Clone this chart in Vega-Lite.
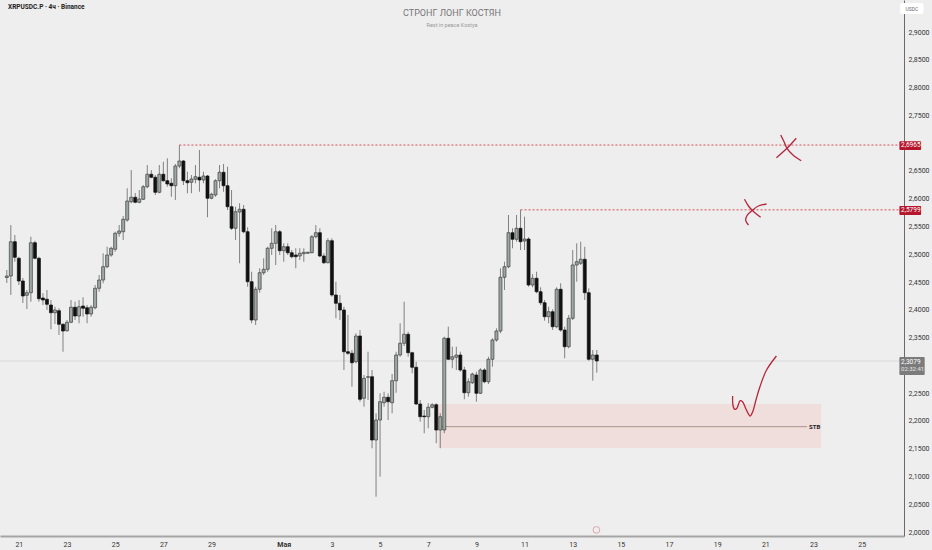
{
  "$schema": "https://vega.github.io/schema/vega-lite/v6.json",
  "width": 904,
  "height": 536,
  "autosize": {"type": "none"},
  "padding": {"left": 0, "top": 0, "right": 28, "bottom": 14},
  "background": "#eeeeee",
  "title": {
    "text": "СТРОНГ ЛОНГ КОСТЯН",
    "subtitle": "Rest in peace Kostya",
    "anchor": "middle",
    "offset": -28,
    "font": "Roboto",
    "fontSize": 9,
    "fontWeight": "normal",
    "color": "#777777",
    "subtitleFont": "Roboto",
    "subtitleFontSize": 5.5,
    "subtitleColor": "#9a9a9a",
    "subtitlePadding": 5
  },
  "datasets": {
    "candles": [
      {"i": -3, "o": 2.4581, "h": 2.4716, "l": 2.4482, "c": 2.4608},
      {"i": -2, "o": 2.4608, "h": 2.5526, "l": 2.4266, "c": 2.5225},
      {"i": -1, "o": 2.5225, "h": 2.5346, "l": 2.4865, "c": 2.4945},
      {"i": 0, "o": 2.4927, "h": 2.4955, "l": 2.4446, "c": 2.4518},
      {"i": 1, "o": 2.4518, "h": 2.4572, "l": 2.4122, "c": 2.4248},
      {"i": 2, "o": 2.4261, "h": 2.4356, "l": 2.4014, "c": 2.4307},
      {"i": 3, "o": 2.4307, "h": 2.5315, "l": 2.4145, "c": 2.5207},
      {"i": 4, "o": 2.5207, "h": 2.5243, "l": 2.4909, "c": 2.4927},
      {"i": 5, "o": 2.4927, "h": 2.4955, "l": 2.4145, "c": 2.4199},
      {"i": 6, "o": 2.4212, "h": 2.4297, "l": 2.4086, "c": 2.4176},
      {"i": 7, "o": 2.4189, "h": 2.4356, "l": 2.3996, "c": 2.4099},
      {"i": 8, "o": 2.4086, "h": 2.4176, "l": 2.3649, "c": 2.3947},
      {"i": 9, "o": 2.3947, "h": 2.4055, "l": 2.3744, "c": 2.3996},
      {"i": 10, "o": 2.3983, "h": 2.4027, "l": 2.3546, "c": 2.3739},
      {"i": 11, "o": 2.3739, "h": 2.3757, "l": 2.3245, "c": 2.3618},
      {"i": 12, "o": 2.3623, "h": 2.3816, "l": 2.3605, "c": 2.3775},
      {"i": 13, "o": 2.3775, "h": 2.4176, "l": 2.3757, "c": 2.4045},
      {"i": 14, "o": 2.4045, "h": 2.4145, "l": 2.3816, "c": 2.3888},
      {"i": 15, "o": 2.3888, "h": 2.4176, "l": 2.3757, "c": 2.4055},
      {"i": 16, "o": 2.4068, "h": 2.4225, "l": 2.3875, "c": 2.4027},
      {"i": 17, "o": 2.4037, "h": 2.4086, "l": 2.3757, "c": 2.3924},
      {"i": 18, "o": 2.3924, "h": 2.4086, "l": 2.3875, "c": 2.4045},
      {"i": 19, "o": 2.4037, "h": 2.4446, "l": 2.4009, "c": 2.4387},
      {"i": 20, "o": 2.4387, "h": 2.4626, "l": 2.4325, "c": 2.4536},
      {"i": 21, "o": 2.4536, "h": 2.5017, "l": 2.4477, "c": 2.4775},
      {"i": 22, "o": 2.4775, "h": 2.5135, "l": 2.4747, "c": 2.4986},
      {"i": 23, "o": 2.4986, "h": 2.5135, "l": 2.4955, "c": 2.5107},
      {"i": 24, "o": 2.5089, "h": 2.5405, "l": 2.5045, "c": 2.5377},
      {"i": 25, "o": 2.5377, "h": 2.5526, "l": 2.5315, "c": 2.5418},
      {"i": 26, "o": 2.5405, "h": 2.5688, "l": 2.5256, "c": 2.5629},
      {"i": 27, "o": 2.5616, "h": 2.6187, "l": 2.5585, "c": 2.5958},
      {"i": 28, "o": 2.5945, "h": 2.6516, "l": 2.5917, "c": 2.6025},
      {"i": 29, "o": 2.6025, "h": 2.6102, "l": 2.5917, "c": 2.5935},
      {"i": 30, "o": 2.5935, "h": 2.6156, "l": 2.5917, "c": 2.5994},
      {"i": 31, "o": 2.5989, "h": 2.6246, "l": 2.5976, "c": 2.6215},
      {"i": 32, "o": 2.6215, "h": 2.6606, "l": 2.6187, "c": 2.6439},
      {"i": 33, "o": 2.6439, "h": 2.6516, "l": 2.6367, "c": 2.6385},
      {"i": 34, "o": 2.6385, "h": 2.6426, "l": 2.6066, "c": 2.6115},
      {"i": 35, "o": 2.6115, "h": 2.6606, "l": 2.6097, "c": 2.6439},
      {"i": 36, "o": 2.6439, "h": 2.6665, "l": 2.6305, "c": 2.6323},
      {"i": 37, "o": 2.6323, "h": 2.6727, "l": 2.6215, "c": 2.6264},
      {"i": 38, "o": 2.6277, "h": 2.6367, "l": 2.6035, "c": 2.6233},
      {"i": 39, "o": 2.6233, "h": 2.6624, "l": 2.5976, "c": 2.6588},
      {"i": 40, "o": 2.6588, "h": 2.6965, "l": 2.6547, "c": 2.6678},
      {"i": 41, "o": 2.6678, "h": 2.6696, "l": 2.6246, "c": 2.6323},
      {"i": 42, "o": 2.6323, "h": 2.6485, "l": 2.6097, "c": 2.6287},
      {"i": 43, "o": 2.6295, "h": 2.6426, "l": 2.6097, "c": 2.6354},
      {"i": 44, "o": 2.6349, "h": 2.6606, "l": 2.6277, "c": 2.6395},
      {"i": 45, "o": 2.6385, "h": 2.6876, "l": 2.6125, "c": 2.6336},
      {"i": 46, "o": 2.6336, "h": 2.6485, "l": 2.6277, "c": 2.6408},
      {"i": 47, "o": 2.6408, "h": 2.6426, "l": 2.5665, "c": 2.6007},
      {"i": 48, "o": 2.6007, "h": 2.6107, "l": 2.5989, "c": 2.6079},
      {"i": 49, "o": 2.6066, "h": 2.6349, "l": 2.6035, "c": 2.6323},
      {"i": 50, "o": 2.6323, "h": 2.6606, "l": 2.6187, "c": 2.6475},
      {"i": 51, "o": 2.6475, "h": 2.6624, "l": 2.6125, "c": 2.6233},
      {"i": 52, "o": 2.6233, "h": 2.6575, "l": 2.5796, "c": 2.5855},
      {"i": 53, "o": 2.5855, "h": 2.6156, "l": 2.5436, "c": 2.5467},
      {"i": 54, "o": 2.5467, "h": 2.5855, "l": 2.5256, "c": 2.5765},
      {"i": 55, "o": 2.576, "h": 2.5917, "l": 2.4837, "c": 2.5809},
      {"i": 56, "o": 2.5809, "h": 2.5886, "l": 2.5377, "c": 2.5405},
      {"i": 57, "o": 2.5405, "h": 2.5485, "l": 2.4415, "c": 2.4505},
      {"i": 58, "o": 2.4505, "h": 2.4685, "l": 2.3757, "c": 2.3816},
      {"i": 59, "o": 2.3816, "h": 2.4415, "l": 2.3726, "c": 2.4369},
      {"i": 60, "o": 2.4369, "h": 2.4747, "l": 2.4307, "c": 2.4667},
      {"i": 61, "o": 2.4667, "h": 2.4927, "l": 2.4626, "c": 2.4729},
      {"i": 62, "o": 2.4729, "h": 2.5135, "l": 2.4685, "c": 2.5107},
      {"i": 63, "o": 2.5107, "h": 2.5467, "l": 2.4986, "c": 2.5197},
      {"i": 64, "o": 2.5197, "h": 2.5526, "l": 2.4806, "c": 2.5405},
      {"i": 65, "o": 2.5405, "h": 2.5436, "l": 2.4986, "c": 2.5063},
      {"i": 66, "o": 2.5063, "h": 2.5197, "l": 2.4865, "c": 2.5135},
      {"i": 67, "o": 2.5135, "h": 2.5197, "l": 2.4986, "c": 2.5027},
      {"i": 68, "o": 2.5027, "h": 2.5076, "l": 2.4927, "c": 2.4955},
      {"i": 69, "o": 2.4986, "h": 2.5107, "l": 2.4747, "c": 2.4955},
      {"i": 70, "o": 2.4968, "h": 2.5107, "l": 2.4896, "c": 2.5017},
      {"i": 71, "o": 2.5009, "h": 2.5107, "l": 2.4865, "c": 2.5035},
      {"i": 72, "o": 2.5017, "h": 2.5045, "l": 2.5004, "c": 2.5035},
      {"i": 73, "o": 2.5027, "h": 2.5346, "l": 2.5017, "c": 2.5315},
      {"i": 74, "o": 2.5315, "h": 2.5526, "l": 2.5287, "c": 2.5387},
      {"i": 75, "o": 2.5387, "h": 2.5467, "l": 2.4945, "c": 2.4968},
      {"i": 76, "o": 2.4968, "h": 2.5017, "l": 2.4824, "c": 2.4847},
      {"i": 77, "o": 2.4847, "h": 2.5287, "l": 2.4837, "c": 2.5243},
      {"i": 78, "o": 2.5243, "h": 2.5287, "l": 2.4235, "c": 2.4266},
      {"i": 79, "o": 2.4266, "h": 2.4505, "l": 2.3847, "c": 2.4117},
      {"i": 80, "o": 2.4117, "h": 2.4266, "l": 2.3816, "c": 2.3996},
      {"i": 81, "o": 2.3996, "h": 2.4055, "l": 2.2916, "c": 2.3245},
      {"i": 82, "o": 2.3245, "h": 2.3906, "l": 2.3186, "c": 2.3217},
      {"i": 83, "o": 2.3217, "h": 2.3276, "l": 2.2615, "c": 2.3047},
      {"i": 84, "o": 2.3065, "h": 2.3577, "l": 2.3037, "c": 2.3528},
      {"i": 85, "o": 2.3528, "h": 2.3636, "l": 2.2345, "c": 2.2389},
      {"i": 86, "o": 2.2407, "h": 2.2826, "l": 2.2255, "c": 2.2767},
      {"i": 87, "o": 2.2785, "h": 2.3245, "l": 2.2376, "c": 2.2795},
      {"i": 88, "o": 2.2795, "h": 2.2916, "l": 2.1507, "c": 2.1656},
      {"i": 89, "o": 2.1656, "h": 2.2137, "l": 2.0635, "c": 2.2016},
      {"i": 90, "o": 2.2016, "h": 2.2497, "l": 2.0995, "c": 2.2345},
      {"i": 91, "o": 2.2327, "h": 2.2525, "l": 2.2255, "c": 2.2425},
      {"i": 92, "o": 2.2425, "h": 2.2497, "l": 2.2016, "c": 2.2345},
      {"i": 93, "o": 2.2327, "h": 2.2844, "l": 2.2137, "c": 2.2723},
      {"i": 94, "o": 2.2723, "h": 2.3245, "l": 2.2507, "c": 2.3186},
      {"i": 95, "o": 2.3186, "h": 2.3757, "l": 2.3155, "c": 2.3397},
      {"i": 96, "o": 2.3397, "h": 2.4145, "l": 2.3348, "c": 2.3559},
      {"i": 97, "o": 2.3559, "h": 2.3605, "l": 2.3155, "c": 2.3227},
      {"i": 98, "o": 2.3227, "h": 2.3245, "l": 2.2857, "c": 2.2965},
      {"i": 99, "o": 2.2965, "h": 2.3065, "l": 2.2286, "c": 2.2304},
      {"i": 100, "o": 2.2304, "h": 2.2376, "l": 2.1985, "c": 2.2075},
      {"i": 101, "o": 2.2088, "h": 2.2196, "l": 2.1777, "c": 2.2075},
      {"i": 102, "o": 2.2075, "h": 2.2317, "l": 2.1867, "c": 2.2245},
      {"i": 103, "o": 2.2245, "h": 2.2317, "l": 2.2227, "c": 2.2291},
      {"i": 104, "o": 2.2291, "h": 2.2317, "l": 2.1597, "c": 2.1836},
      {"i": 105, "o": 2.1836, "h": 2.2137, "l": 2.1507, "c": 2.2075},
      {"i": 106, "o": 2.1836, "h": 2.3515, "l": 2.1777, "c": 2.3487},
      {"i": 107, "o": 2.3487, "h": 2.3695, "l": 2.3096, "c": 2.3109},
      {"i": 108, "o": 2.3109, "h": 2.3335, "l": 2.2947, "c": 2.3155},
      {"i": 109, "o": 2.3145, "h": 2.3335, "l": 2.2916, "c": 2.3186},
      {"i": 110, "o": 2.3186, "h": 2.3245, "l": 2.2885, "c": 2.2916},
      {"i": 111, "o": 2.2916, "h": 2.2975, "l": 2.2389, "c": 2.2507},
      {"i": 112, "o": 2.2507, "h": 2.2767, "l": 2.2435, "c": 2.2705},
      {"i": 113, "o": 2.2687, "h": 2.2867, "l": 2.2664, "c": 2.2844},
      {"i": 114, "o": 2.2826, "h": 2.2885, "l": 2.2345, "c": 2.2497},
      {"i": 115, "o": 2.2497, "h": 2.2947, "l": 2.2484, "c": 2.2916},
      {"i": 116, "o": 2.2916, "h": 2.2947, "l": 2.2677, "c": 2.2705},
      {"i": 117, "o": 2.2705, "h": 2.3155, "l": 2.2664, "c": 2.3109},
      {"i": 118, "o": 2.3109, "h": 2.3487, "l": 2.2975, "c": 2.3456},
      {"i": 119, "o": 2.3456, "h": 2.3667, "l": 2.3425, "c": 2.3618},
      {"i": 120, "o": 2.3618, "h": 2.4747, "l": 2.3577, "c": 2.4585},
      {"i": 121, "o": 2.4585, "h": 2.4865, "l": 2.4356, "c": 2.4775},
      {"i": 122, "o": 2.4775, "h": 2.5706, "l": 2.4747, "c": 2.5387},
      {"i": 123, "o": 2.5387, "h": 2.5467, "l": 2.5107, "c": 2.5269},
      {"i": 124, "o": 2.5269, "h": 2.5706, "l": 2.5225, "c": 2.5467},
      {"i": 125, "o": 2.5467, "h": 2.5799, "l": 2.5076, "c": 2.5225},
      {"i": 126, "o": 2.5238, "h": 2.5675, "l": 2.5076, "c": 2.5274},
      {"i": 127, "o": 2.5274, "h": 2.5305, "l": 2.4415, "c": 2.4446},
      {"i": 128, "o": 2.4446, "h": 2.4644, "l": 2.4405, "c": 2.4567},
      {"i": 129, "o": 2.4567, "h": 2.4685, "l": 2.4297, "c": 2.4325},
      {"i": 130, "o": 2.4325, "h": 2.4405, "l": 2.4086, "c": 2.4127},
      {"i": 131, "o": 2.4127, "h": 2.4176, "l": 2.3803, "c": 2.3875},
      {"i": 132, "o": 2.3875, "h": 2.4055, "l": 2.3757, "c": 2.3965},
      {"i": 133, "o": 2.3965, "h": 2.4009, "l": 2.3636, "c": 2.3695},
      {"i": 134, "o": 2.3695, "h": 2.4405, "l": 2.3667, "c": 2.4369},
      {"i": 135, "o": 2.4369, "h": 2.4477, "l": 2.3605, "c": 2.3636},
      {"i": 136, "o": 2.3636, "h": 2.3695, "l": 2.3127, "c": 2.3335},
      {"i": 137, "o": 2.3335, "h": 2.3906, "l": 2.3307, "c": 2.3847},
      {"i": 138, "o": 2.3847, "h": 2.5076, "l": 2.3816, "c": 2.4806},
      {"i": 139, "o": 2.4806, "h": 2.5197, "l": 2.4505, "c": 2.4865},
      {"i": 140, "o": 2.4837, "h": 2.5225, "l": 2.4806, "c": 2.4909},
      {"i": 141, "o": 2.4909, "h": 2.5135, "l": 2.4176, "c": 2.4307},
      {"i": 142, "o": 2.4307, "h": 2.4387, "l": 2.3083, "c": 2.3109},
      {"i": 143, "o": 2.3109, "h": 2.3276, "l": 2.2723, "c": 2.3186},
      {"i": 144, "o": 2.3186, "h": 2.3276, "l": 2.2867, "c": 2.3079}
    ],
    "draw": [
      {"s": "x1a", "k": 0, "i": 189.82, "p": 2.7146},
      {"s": "x1a", "k": 1, "i": 190.66, "p": 2.7025},
      {"s": "x1a", "k": 2, "i": 191.4, "p": 2.6907},
      {"s": "x1a", "k": 3, "i": 192.88, "p": 2.6786},
      {"s": "x1a", "k": 4, "i": 194.93, "p": 2.6683},
      {"s": "x1b", "k": 0, "i": 193.7, "p": 2.7087},
      {"s": "x1b", "k": 1, "i": 191.4, "p": 2.6907},
      {"s": "x1b", "k": 2, "i": 188.76, "p": 2.6737},
      {"s": "x2a", "k": 0, "i": 180.8, "p": 2.5989},
      {"s": "x2a", "k": 1, "i": 181.79, "p": 2.5868},
      {"s": "x2a", "k": 2, "i": 182.85, "p": 2.5783},
      {"s": "x2a", "k": 3, "i": 184.82, "p": 2.5665},
      {"s": "x2b", "k": 0, "i": 186.3, "p": 2.5904},
      {"s": "x2b", "k": 1, "i": 184.25, "p": 2.5868},
      {"s": "x2b", "k": 2, "i": 182.85, "p": 2.5796},
      {"s": "x2b", "k": 3, "i": 181.37, "p": 2.5688},
      {"s": "x2b", "k": 4, "i": 181.12, "p": 2.5603},
      {"s": "x2b", "k": 5, "i": 181.81, "p": 2.5526},
      {"s": "tick", "k": 0, "i": 177.85, "p": 2.2448},
      {"s": "tick", "k": 1, "i": 177.92, "p": 2.2286},
      {"s": "tick", "k": 2, "i": 178.34, "p": 2.2209},
      {"s": "tick", "k": 3, "i": 178.91, "p": 2.2227},
      {"s": "tick", "k": 4, "i": 179.72, "p": 2.2363},
      {"s": "tick", "k": 5, "i": 180.31, "p": 2.2345},
      {"s": "tick", "k": 6, "i": 181.2, "p": 2.2209},
      {"s": "tick", "k": 7, "i": 182.18, "p": 2.2088},
      {"s": "tick", "k": 8, "i": 182.85, "p": 2.2165},
      {"s": "tick", "k": 9, "i": 183.66, "p": 2.2376},
      {"s": "tick", "k": 10, "i": 184.65, "p": 2.2615},
      {"s": "tick", "k": 11, "i": 186.3, "p": 2.2916},
      {"s": "tick", "k": 12, "i": 188.76, "p": 2.3168}
    ],
    "tags": [
      {"kind": "level", "i": 219.4, "i2": 224.8, "p": 2.7035, "p2": 2.6876, "ti": 219.8, "tp": 2.6958, "t": "2,6965"},
      {"kind": "level", "i": 219.4, "i2": 224.8, "p": 2.5868, "p2": 2.5706, "ti": 219.8, "tp": 2.5792, "t": "2,5799"},
      {"kind": "last", "i": 219.4, "i2": 225.7, "p": 2.315, "p2": 2.2826, "ti": 219.8, "tp": 2.3062, "t": "2,3079"}
    ]
  },
  "layer": [
    {
      "data": {"values": [{"i": 104.5, "i2": 199.9, "p": 2.2304, "p2": 2.1512}]},
      "mark": {"type": "rect", "fill": "#efdedb"},
      "encoding": {
        "x": {
          "field": "i", "type": "quantitative",
          "scale": {"domain": [-3.45, 219.3], "nice": false, "zero": false},
          "axis": {
            "title": null,
            "orient": "bottom",
            "grid": false,
            "ticks": false,
            "domainColor": "#a5a5a5",
            "domainWidth": 2,
            "labelFont": "Roboto",
            "labelFontSize": 7,
            "labelColor": "#333333",
            "labelPadding": 4,
            "labelOverlap": false,
            "tickCount": 40,
            "labelFontWeight": {"condition": {"test": "datum.value == 66", "value": "bold"}, "value": "normal"},
            "values": [0, 12, 24, 36, 48, 66, 78, 90, 102, 114, 126, 138, 150, 162, 174, 186, 198, 210],
            "labelExpr": "datum.value < 60 ? '' + (21 + datum.value / 6) : datum.value == 66 ? 'Мая' : '' + ((datum.value - 66) / 6 + 1)"
          }
        },
        "x2": {"field": "i2"},
        "y": {
          "field": "p", "type": "quantitative",
          "scale": {"domain": [1.9928, 2.9576], "nice": false, "zero": false},
          "axis": {
            "title": null,
            "orient": "right",
            "grid": false,
            "ticks": false,
            "domainColor": "#6a6a6a",
            "domainWidth": 1,
            "labelFont": "Roboto",
            "labelFontSize": 7,
            "labelColor": "#333333",
            "labelPadding": 4,
            "labelOverlap": false,
            "tickCount": 40,
            "values": [2.0, 2.05, 2.1, 2.15, 2.2, 2.25, 2.35, 2.4, 2.45, 2.5, 2.55, 2.6, 2.65, 2.75, 2.8, 2.85, 2.9],
            "labelExpr": "replace(format(datum.value, '.4f'), '.', ',')"
          }
        },
        "y2": {"field": "p2"}
      }
    },
    {
      "data": {"values": [{"p": 2.3079}]},
      "mark": {"type": "rule", "color": "#d9d9d9", "strokeWidth": 1},
      "encoding": {
        "y": {"field": "p", "type": "quantitative", "scale": {"domain": [1.9928, 2.9576], "nice": false, "zero": false}}
      }
    },
    {
      "data": {"values": [{"i": 40, "i2": 219.3, "p": 2.6965}, {"i": 125, "i2": 219.3, "p": 2.5799}]},
      "mark": {"type": "rule", "color": "#dd4b58", "strokeWidth": 1, "strokeDash": [2, 2]},
      "encoding": {
        "x": {"field": "i", "type": "quantitative", "scale": {"domain": [-3.45, 219.3], "nice": false, "zero": false}},
        "x2": {"field": "i2"},
        "y": {"field": "p", "type": "quantitative", "scale": {"domain": [1.9928, 2.9576], "nice": false, "zero": false}}
      }
    },
    {
      "data": {"values": [{"i": 105, "i2": 196.4, "p": 2.1896, "ti": 196.9, "t": "STB"}]},
      "layer": [
        {"mark": {"type": "rule", "color": "#a8938f", "strokeWidth": 1}},
        {
          "mark": {"type": "text", "align": "left", "baseline": "middle", "font": "Roboto", "fontSize": 6, "fontWeight": "bold", "color": "#222222"},
          "encoding": {"x": {"field": "ti", "type": "quantitative", "scale": {"domain": [-3.45, 219.3], "nice": false, "zero": false}}, "x2": null, "text": {"field": "t"}}
        }
      ],
      "encoding": {
        "x": {"field": "i", "type": "quantitative", "scale": {"domain": [-3.45, 219.3], "nice": false, "zero": false}},
        "x2": {"field": "i2"},
        "y": {"field": "p", "type": "quantitative", "scale": {"domain": [1.9928, 2.9576], "nice": false, "zero": false}}
      }
    },
    {
      "data": {"name": "candles"},
      "mark": {"type": "rule", "color": "#808080", "strokeWidth": 1},
      "encoding": {
        "x": {"field": "i", "type": "quantitative", "scale": {"domain": [-3.45, 219.3], "nice": false, "zero": false}},
        "y": {"field": "l", "type": "quantitative", "scale": {"domain": [1.9928, 2.9576], "nice": false, "zero": false}},
        "y2": {"field": "h"}
      }
    },
    {
      "data": {"name": "candles"},
      "mark": {"type": "bar", "size": 3, "strokeWidth": 0.7},
      "encoding": {
        "x": {"field": "i", "type": "quantitative", "scale": {"domain": [-3.45, 219.3], "nice": false, "zero": false}},
        "y": {"field": "o", "type": "quantitative", "scale": {"domain": [1.9928, 2.9576], "nice": false, "zero": false}},
        "y2": {"field": "c"},
        "fill": {"condition": {"test": "datum.c >= datum.o", "value": "#9ea8a2"}, "value": "#111111"},
        "stroke": {"condition": {"test": "datum.c >= datum.o", "value": "#3e3e3e"}, "value": "#111111"}
      }
    },
    {
      "data": {"name": "draw"},
      "mark": {"type": "line", "color": "#b5253a", "strokeWidth": 1.3, "interpolate": "catmull-rom"},
      "encoding": {
        "x": {"field": "i", "type": "quantitative", "scale": {"domain": [-3.45, 219.3], "nice": false, "zero": false}},
        "y": {"field": "p", "type": "quantitative", "scale": {"domain": [1.9928, 2.9576], "nice": false, "zero": false}},
        "detail": {"field": "s"},
        "order": {"field": "k"}
      }
    },
    {
      "data": {"name": "tags"},
      "mark": {"type": "rect", "cornerRadius": 1},
      "encoding": {
        "x": {"field": "i", "type": "quantitative", "scale": {"domain": [-3.45, 219.3], "nice": false, "zero": false}},
        "x2": {"field": "i2"},
        "y": {"field": "p", "type": "quantitative", "scale": {"domain": [1.9928, 2.9576], "nice": false, "zero": false}},
        "y2": {"field": "p2"},
        "fill": {"field": "kind", "type": "nominal", "scale": {"domain": ["level", "last"], "range": ["#b5162b", "#7b7b7b"]}, "legend": null}
      }
    },
    {
      "data": {"name": "tags"},
      "mark": {"type": "text", "align": "left", "baseline": "middle", "font": "Roboto", "fontSize": 6.5, "color": "#ffffff"},
      "encoding": {
        "x": {"field": "ti", "type": "quantitative", "scale": {"domain": [-3.45, 219.3], "nice": false, "zero": false}},
        "y": {"field": "tp", "type": "quantitative", "scale": {"domain": [1.9928, 2.9576], "nice": false, "zero": false}},
        "text": {"field": "t"}
      }
    },
    {
      "data": {"values": [{"i": 219.8, "p": 2.2927, "t": "02:32:41"}]},
      "mark": {"type": "text", "align": "left", "baseline": "middle", "font": "Roboto", "fontSize": 6, "color": "#e6e6e6"},
      "encoding": {
        "x": {"field": "i", "type": "quantitative", "scale": {"domain": [-3.45, 219.3], "nice": false, "zero": false}},
        "y": {"field": "p", "type": "quantitative", "scale": {"domain": [1.9928, 2.9576], "nice": false, "zero": false}},
        "text": {"field": "t"}
      }
    },
    {
      "data": {"values": [{"i": 219.6, "i2": 225.4, "p": 2.9522, "p2": 2.9324, "ti": 222.5, "tp": 2.9423, "t": "USDC"}]},
      "layer": [
        {
          "mark": {"type": "rect", "fill": "#ffffff", "cornerRadius": 2},
          "encoding": {"x2": {"field": "i2"}, "y2": {"field": "p2"}}
        },
        {
          "mark": {"type": "text", "align": "center", "baseline": "middle", "font": "Roboto", "fontSize": 5, "color": "#666666"},
          "encoding": {
            "x": {"field": "ti", "type": "quantitative", "scale": {"domain": [-3.45, 219.3], "nice": false, "zero": false}},
            "y": {"field": "tp", "type": "quantitative", "scale": {"domain": [1.9928, 2.9576], "nice": false, "zero": false}},
            "text": {"field": "t"}
          }
        }
      ],
      "encoding": {
        "x": {"field": "i", "type": "quantitative", "scale": {"domain": [-3.45, 219.3], "nice": false, "zero": false}},
        "y": {"field": "p", "type": "quantitative", "scale": {"domain": [1.9928, 2.9576], "nice": false, "zero": false}}
      }
    },
    {
      "data": {"values": [{"i": -2.7, "p": 2.9449, "t": "XRPUSDC.P · 4ч · Binance"}]},
      "mark": {"type": "text", "align": "left", "baseline": "middle", "font": "Roboto", "fontSize": 6.5, "fontWeight": "bold", "color": "#222222"},
      "encoding": {
        "x": {"field": "i", "type": "quantitative", "scale": {"domain": [-3.45, 219.3], "nice": false, "zero": false}},
        "y": {"field": "p", "type": "quantitative", "scale": {"domain": [1.9928, 2.9576], "nice": false, "zero": false}},
        "text": {"field": "t"}
      }
    },
    {
      "data": {"values": [{"i": 143.9, "p": 2.0038}]},
      "mark": {"type": "point", "shape": "circle", "size": 45, "filled": false, "stroke": "#d98896", "strokeWidth": 1},
      "encoding": {
        "x": {"field": "i", "type": "quantitative", "scale": {"domain": [-3.45, 219.3], "nice": false, "zero": false}},
        "y": {"field": "p", "type": "quantitative", "scale": {"domain": [1.9928, 2.9576], "nice": false, "zero": false}}
      }
    }
  ],
  "config": {
    "view": {"stroke": null},
    "font": "Roboto"
  }
}
